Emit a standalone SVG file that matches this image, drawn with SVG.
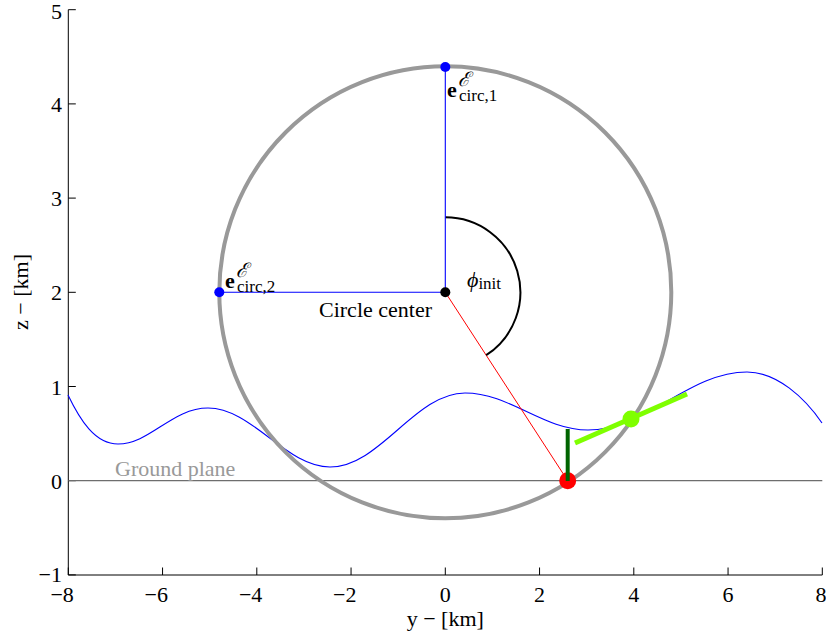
<svg xmlns="http://www.w3.org/2000/svg" width="826" height="636" viewBox="0 0 826 636" font-family="'Liberation Serif','Times New Roman',serif">
<style>
text{font-family:'Liberation Serif','Times New Roman',serif;font-size:22px;fill:#000}
.tl{text-anchor:end}
.tb{text-anchor:middle}
.axis{stroke:#000;stroke-width:1;fill:none}
.sub{font-size:17px}
.scr{font-size:20px;font-style:italic}
</style>
<rect width="826" height="636" fill="#fff"/>
<g id="axes">
<path class="axis" d="M68.3,9.7V575H822.3"/>
<path class="axis" d="M68.3,574.9h7.5M68.3,480.7h7.5M68.3,386.5h7.5M68.3,292.3h7.5M68.3,198.1h7.5M68.3,103.9h7.5M68.3,9.7h7.5"/>
<path class="axis" d="M68.3,575v-7.5M162.55,575v-7.5M256.8,575v-7.5M351.05,575v-7.5M445.3,575v-7.5M539.55,575v-7.5M633.8,575v-7.5M728.05,575v-7.5M822.3,575v-7.5"/>
<text class="tl" x="62" y="582">−1</text>
<text class="tl" x="62" y="489">0</text>
<text class="tl" x="62" y="395">1</text>
<text class="tl" x="62" y="300">2</text>
<text class="tl" x="62" y="206">3</text>
<text class="tl" x="62" y="112">4</text>
<text class="tl" x="62" y="19">5</text>
<text class="tl" x="73.8" y="602">−8</text>
<text class="tl" x="168" y="602">−6</text>
<text class="tl" x="262.3" y="602">−4</text>
<text class="tl" x="356.5" y="602">−2</text>
<text class="tb" x="445.3" y="602">0</text>
<text class="tb" x="539.55" y="602">2</text>
<text class="tb" x="633.8" y="602">4</text>
<text class="tb" x="728.05" y="602">6</text>
<text class="tb" x="821" y="602">8</text>
<text class="tb" x="445.3" y="626">y − [km]</text>
<text class="tb" transform="translate(28,292) rotate(-90)">z − [km]</text>
</g>
<g id="ground">
<line x1="68.3" y1="480.7" x2="822.3" y2="480.7" stroke="#6e6e6e" stroke-width="1.2"/>
<text x="115" y="476" style="fill:#999999">Ground plane</text>
</g>
<g id="connectors" fill="none">
<path id="terrain" d="M68,395 C80,420 95,444 118,444 C150,444 172,408 208,408 C252,408 286,467 330,467 C380,467 415,393 465,393 C510,393 543,430 588,430 C646,430 689,372 747,372 C777,372 805,398 822,423" stroke="#0000ff" stroke-width="1.1"/>
<circle id="circle" cx="445.3" cy="292.3" r="226" stroke="#999999" stroke-width="4"/>
<line x1="445.3" y1="292.3" x2="567.7" y2="480.7" stroke="#ff0000" stroke-width="1"/>
<path d="M445.3,217.3 A75,75 0 0 1 486.2,355.2" stroke="#000" stroke-width="2"/>
<line x1="445.3" y1="292.3" x2="445.3" y2="67" stroke="#0000ff" stroke-width="1.1"/>
<line x1="445.3" y1="292.3" x2="219.3" y2="292.3" stroke="#0000ff" stroke-width="1.1"/>
</g>
<g id="e1">
<circle cx="445.3" cy="67" r="5" fill="#0000ff"/>
<text x="447" y="97" font-weight="bold">e</text>
<text class="scr" x="458" y="86">ℰ</text>
<text class="sub" x="459" y="101">circ,1</text>
</g>
<g id="e2">
<circle cx="219.3" cy="292.3" r="5" fill="#0000ff"/>
<text x="225" y="288" font-weight="bold">e</text>
<text class="scr" x="236" y="277">ℰ</text>
<text class="sub" x="237" y="292">circ,2</text>
</g>
<g id="center">
<circle cx="445.3" cy="292.3" r="5" fill="#000"/>
<text x="319" y="317">Circle center</text>
</g>
<g id="phi">
<text x="467" y="287"><tspan font-style="italic">ϕ</tspan><tspan class="sub" dy="2">init</tspan></text>
</g>
<g id="contact">
<circle cx="567.7" cy="480.7" r="8.5" fill="#ff0000"/>
<line x1="567.7" y1="429" x2="567.7" y2="481" stroke="#006400" stroke-width="4"/>
</g>
<g id="tangent">
<line x1="575" y1="443" x2="687" y2="394" stroke="#7fff00" stroke-width="5"/>
<circle cx="631" cy="419" r="8.5" fill="#7fff00"/>
</g>
</svg>
